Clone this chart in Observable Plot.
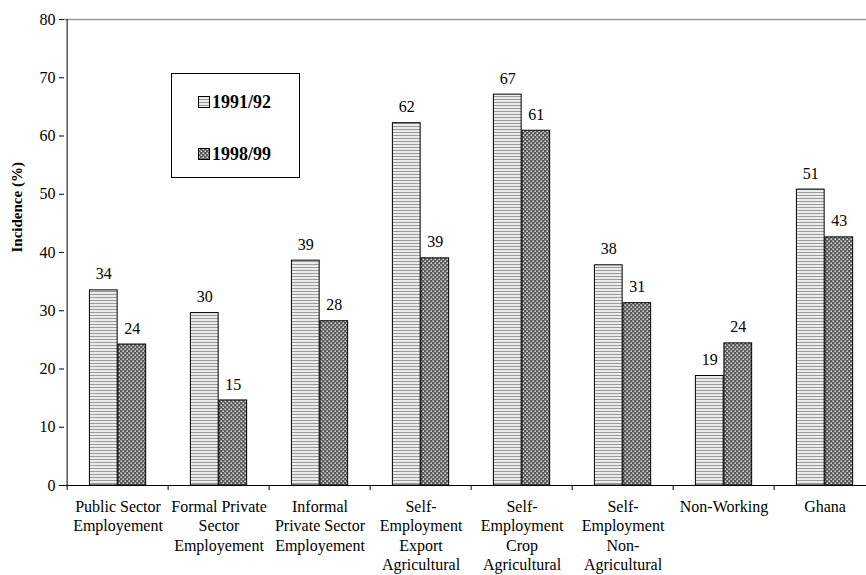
<!DOCTYPE html>
<html><head><meta charset="utf-8">
<script src="https://cdn.jsdelivr.net/npm/d3@7"></script>
<script src="https://cdn.jsdelivr.net/npm/@observablehq/plot@0.6"></script>
<style>
body{margin:0;background:#fff;}
#wrap{position:relative;width:866px;height:575px;font-family:'Liberation Serif','DejaVu Serif',serif;overflow:hidden;}
#wrap svg, #wrap svg text{font-family:'Liberation Serif','DejaVu Serif',serif !important;}
#legend{position:absolute;left:171px;top:73px;width:129px;height:105px;border:1px solid #000;box-sizing:border-box;background:#fff;}
.item{position:absolute;left:26px;font-weight:bold;font-size:18px;line-height:18px;display:flex;align-items:center;color:#000;font-family:'Liberation Serif','DejaVu Serif',serif;}
.item svg{margin-right:2px;}
</style></head><body>
<svg width="0" height="0" style="position:absolute">
  <defs>
    <pattern id="stripes" width="4" height="3" patternUnits="userSpaceOnUse">
      <rect width="4" height="3" fill="#ececec"></rect>
      <rect y="0" width="4" height="1" fill="#9a9a9a"></rect>
    </pattern>
    <pattern id="checks" width="4" height="4" patternUnits="userSpaceOnUse">
      <rect width="4" height="4" fill="#5a5a5a"></rect>
      <rect x="0.5" y="0.5" width="1.4" height="1.4" fill="#f4f4f4"></rect>
      <rect x="2.5" y="2.5" width="1.4" height="1.4" fill="#f4f4f4"></rect>
    </pattern>
  </defs>
</svg>
<div id="wrap"></div>
<script>
const categories = [
  "Public Sector\nEmployement",
  "Formal Private\nSector\nEmployement",
  "Informal\nPrivate Sector\nEmployement",
  "Self-\nEmployment\nExport\nAgricultural",
  "Self-\nEmployment\nCrop\nAgricultural",
  "Self-\nEmployment\nNon-\nAgricultural",
  "Non-Working",
  "Ghana"
];
const series = ["1991/92", "1998/99"];
const values1991 = [33.5, 29.6, 38.6, 62.2, 67.1, 37.8, 18.8, 50.8];
const values1998 = [24.2, 14.6, 28.2, 39.0, 60.9, 31.3, 24.4, 42.6];
const yTicks = [0, 10, 20, 30, 40, 50, 60, 70, 80];

const d1 = categories.map((c, i) => ({category: c, series: series[0], value: values1991[i]}));
const d2 = categories.map((c, i) => ({category: c, series: series[1], value: values1998[i]}));

const bw = (878 - 64) / categories.length;
const serif = "Liberation Serif, DejaVu Serif, serif";

const chart = Plot.plot({
  width: 866,
  height: 575,
  marginLeft: 64,
  marginRight: 0,
  marginTop: 19,
  marginBottom: 90,
  style: {fontSize: "16px", color: "#000", background: "#fff", overflow: "visible"},
  x: {type: "band", domain: categories, range: [64, 878], padding: 0},
  y: {domain: [0, 80], range: [485, 19]},
  marks: [
    Plot.ruleY([80], {stroke: "#9a9a9a", strokeWidth: 1.5}),
    Plot.barY(d1, {x: "category", y: "value", fill: "url(#stripes)", stroke: "#000", strokeWidth: 1, insetLeft: 22.4, insetRight: bw - 50.9}),
    Plot.barY(d2, {x: "category", y: "value", fill: "url(#checks)", stroke: "#000", strokeWidth: 1, insetLeft: 50.9, insetRight: bw - 79.4}),
    Plot.text(d1, {x: "category", y: "value", text: d => String(Math.round(d.value)), dx: -14.2, dy: -16, fontSize: 16, fontFamily: serif}),
    Plot.text(d2, {x: "category", y: "value", text: d => String(Math.round(d.value)), dx: 14.2, dy: -16, fontSize: 16, fontFamily: serif}),
    Plot.ruleY([0], {stroke: "#000", strokeWidth: 1}),
    Plot.ruleX([categories[0]], {y1: 0, y2: 80, dx: -bw / 2, stroke: "#000", strokeWidth: 1}),
    Plot.axisX({tickSize: 5, tickFormat: () => "", dx: -bw / 2, label: null, stroke: "#000"}),
    Plot.text(categories, {x: d => d, frameAnchor: "bottom", dy: 13, lineAnchor: "top", lineHeight: 1.2, fontSize: 16, textAnchor: "middle", fontFamily: serif}),
    Plot.axisY({ticks: yTicks, tickSize: 5, tickPadding: 4, label: null, fontSize: 16, fontFamily: serif}),
    Plot.text(["Incidence (%)"], {frameAnchor: "left", y: 40, rotate: -90, dx: -47, fontWeight: "bold", fontSize: 15, fontFamily: serif})
  ]
});

const wrap = document.getElementById("wrap");
wrap.appendChild(chart);

const legend = document.createElement("div");
legend.id = "legend";
const fills = ["url(#stripes)", "url(#checks)"];
const tops = [19, 71];
series.forEach((s, i) => {
  const item = document.createElement("div");
  item.className = "item";
  item.style.top = tops[i] + "px";
  item.innerHTML = `<svg width="12" height="12"><rect x="0.5" y="0.5" width="11" height="11" fill="${fills[i]}" stroke="#000"></rect></svg><span>${s}</span>`;
  legend.appendChild(item);
});
wrap.appendChild(legend);
</script>
</body></html>
